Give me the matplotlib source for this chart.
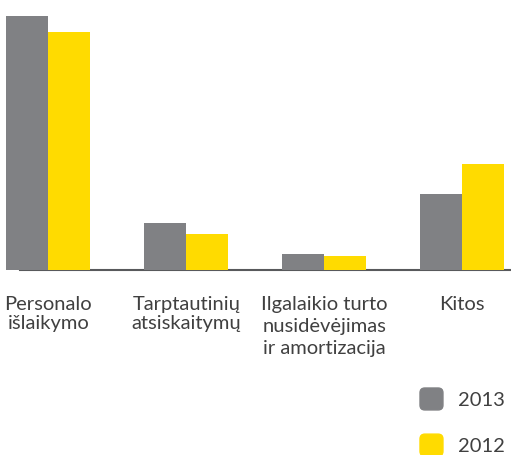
import numpy as np
import matplotlib
matplotlib.use('Agg')
import matplotlib.pyplot as plt
from matplotlib.patches import Patch, FancyBboxPatch
from matplotlib.legend_handler import HandlerPatch

#%% datos
kategorijos = ['Personalo\nišlaikymo', 'Tarptautinių\natsiskaitymų',
               'Ilgalaikio turto\nnusidėvėjimas\nir amortizacija', 'Kitos']
metai = ['2013', '2012']
v2013 = [254, 47, 16, 76]
v2012 = [238, 36, 14, 106]

pilka = '#808184'
geltona = '#ffdb00'
plt.rcParams['font.family'] = ['Lato', 'DejaVu Sans']


def apvalus(legend, orig_handle, xdescent, ydescent, width, height, fontsize):
    # kvadratas su apvaliais kampais legendai
    return FancyBboxPatch((-xdescent, -ydescent), width, height,
                          boxstyle='round,pad=0,rounding_size=3.5')


#%% grafikas
fig = plt.figure(figsize=(5.11, 4.55), dpi=100)
ax = fig.add_axes([0, 1 - 270/455, 1, 270/455])

x = np.arange(len(kategorijos))
w = 0.305
ax.bar(x - w/2, v2013, w, color=pilka, zorder=2)
ax.bar(x + w/2, v2012, w, color=geltona, zorder=2)
ax.axhline(0.5, xmin=20/511, xmax=1, color='#58595b', lw=1.5, zorder=1, clip_on=False)

ax.set_xlim(-0.35, 3.355)
ax.set_ylim(0, 270)
ax.set_yticks([])
ax.set_xticks(x)
ax.set_xticklabels(kategorijos, fontsize=14.5, color='#404040', linespacing=1.12)
ax.tick_params(axis='x', length=0, pad=19)
ax.get_xticklabels()[2].set_linespacing(1.36)
for s in ax.spines.values():
    s.set_visible(False)

fig.legend(handles=[Patch(color=pilka), Patch(color=geltona)], labels=metai,
           handler_map={Patch: HandlerPatch(patch_func=apvalus)},
           loc='upper left', bbox_to_anchor=(420/511, 1 - 388/455),
           frameon=False, fontsize=14.5, labelcolor='#404040',
           handlelength=1.14, handleheight=1.3, handletextpad=0.75,
           labelspacing=1.2, borderpad=0, borderaxespad=0)

fig.savefig('out.png', dpi=100)
